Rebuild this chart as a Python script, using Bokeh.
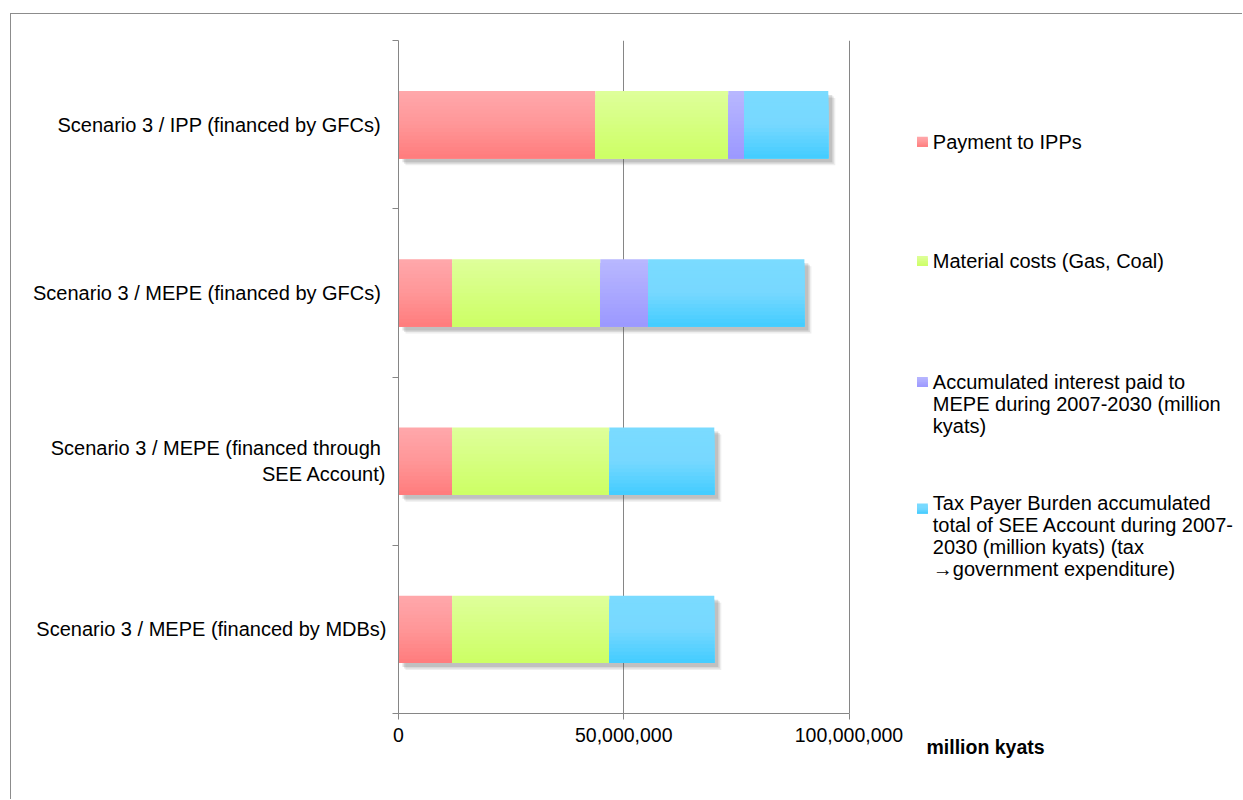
import numpy as np
from bokeh.plotting import figure
from bokeh.models import FixedTicker, NumeralTickFormatter, Range1d, ColumnDataSource, Title
from bokeh.embed import file_html
from bokeh.resources import INLINE
from bokeh.core.properties import value

# ---------------- data ----------------
categories = [
    "Scenario 3 / MEPE (financed by MDBs)",
    "Scenario 3 / MEPE  (financed through\nSEE Account)",
    "Scenario 3 / MEPE  (financed by GFCs)",
    "Scenario 3 / IPP  (financed by GFCs)",
]
series_names = [
    "Payment to IPPs",
    "Material costs (Gas, Coal)",
    "Accumulated interest paid to\nMEPE during 2007-2030 (million\nkyats)",
    "Tax Payer Burden accumulated\ntotal of SEE Account during 2007-\n2030 (million kyats) (tax\n\u2192government expenditure)",
]
payment_to_ipps = [11_900_000, 11_900_000, 11_900_000, 43_700_000]
material_costs = [34_900_000, 34_900_000, 32_900_000, 29_500_000]
accumulated_interest = [0, 0, 10_600_000, 3_500_000]
tax_payer_burden = [23_300_000, 23_300_000, 34_700_000, 18_700_000]
x_tick_values = [0, 50_000_000, 100_000_000]
x_axis_title = "million kyats"

series_values = [payment_to_ipps, material_costs, accumulated_interest, tax_payer_burden]

# ---------------- style ----------------
grad = [
    [(255, 168, 171), (255, 150, 152), (255, 124, 124)],
    [(222, 255, 155), (214, 255, 128), (204, 255, 100)],
    [(185, 184, 255), (170, 168, 255), (155, 152, 255)],
    [(122, 219, 255), (119, 216, 255), (66, 204, 255)],
]
AX = "#868686"
FONT = "Liberation Sans"
W, H = 1232, 786
ML, MT, MB = 387, 26, 87
frame_w = W - ML
px_per_unit_x = 450.5 / 100_000_000
x_end = frame_w / px_per_unit_x
frame_h = H - MT - MB
px_per_unit_y = frame_h / 4.0
bar_h = 0.4
N = 18


def interp(stops, t):
    if t <= 0.5:
        a, b, u = stops[0], stops[1], t / 0.5
    else:
        a, b, u = stops[1], stops[2], (t - 0.5) / 0.5
    c = [int(round(a[i] + (b[i] - a[i]) * u)) for i in range(3)]
    return "#%02x%02x%02x" % tuple(c)


p = figure(width=W, height=H, output_backend="svg", toolbar_location=None,
           x_range=Range1d(0, x_end), y_range=Range1d(0, 4),
           min_border_left=ML, min_border_right=0, min_border_top=MT, min_border_bottom=MB)
p.outline_line_color = None
p.background_fill_color = "white"
p.border_fill_color = "white"
p.styles = {"border-left": "1px solid #8c8c8c", "border-top": "1px solid #8c8c8c",
            "margin-left": "10px", "margin-top": "13px"}

y_centers = [i + 0.5 for i in range(len(categories))]
lefts, rights = [], []
acc = np.zeros(len(categories))
for vals in series_values:
    v = np.array(vals, dtype=float)
    lefts.append(acc.copy())
    rights.append(acc + v)
    acc = acc + v
totals = acc

# soft drop shadow behind each whole bar
for off, alpha in [(7, 0.10), (5.5, 0.14), (4, 0.18)]:
    dx = off / px_per_unit_x
    dy = off / px_per_unit_y
    p.quad(left=[dx] * len(categories),
           right=list(totals + dx),
           top=[c + bar_h / 2 - dy for c in y_centers],
           bottom=[c - bar_h / 2 - dy for c in y_centers],
           fill_color="#555555", fill_alpha=alpha, line_color=None)

# gradient bars: layered quads
for s in range(len(series_values)):
    L, R, B, T, C = [], [], [], [], []
    for k in range(N):
        col = interp(grad[s], (k + 0.5) / N)
        for i, c in enumerate(y_centers):
            if rights[s][i] - lefts[s][i] <= 0:
                continue
            L.append(lefts[s][i]); R.append(rights[s][i])
            B.append(c - bar_h / 2)
            T.append(c + bar_h / 2 - k * bar_h / N)
            C.append(col)
    src = ColumnDataSource(dict(left=L, right=R, bottom=B, top=T, color=C))
    p.quad(left="left", right="right", bottom="bottom", top="top",
           fill_color="color", line_color=None, source=src)

# axes
p.xaxis.ticker = FixedTicker(ticks=x_tick_values)
p.xaxis.formatter = NumeralTickFormatter(format="0,0")
p.xaxis.bounds = (x_tick_values[0], x_tick_values[-1])
p.xaxis.axis_line_color = AX
p.xaxis.major_tick_line_color = AX
p.xaxis.major_tick_out = 6
p.xaxis.major_tick_in = 0
p.xaxis.minor_tick_line_color = None
p.xaxis.major_label_standoff = 8
p.xaxis.major_label_text_font = FONT
p.xaxis.major_label_text_font_size = "19.5px"
p.xaxis.major_label_text_color = "#000000"

p.yaxis.ticker = FixedTicker(ticks=y_centers, minor_ticks=list(range(len(categories) + 1)))
p.yaxis.major_label_overrides = {c: lab for c, lab in zip(y_centers, categories)}
p.yaxis.axis_line_color = AX
p.yaxis.major_tick_line_color = None
p.yaxis.major_tick_out = 0
p.yaxis.major_tick_in = 0
p.yaxis.minor_tick_line_color = AX
p.yaxis.minor_tick_out = 6
p.yaxis.minor_tick_in = 0
p.yaxis.major_label_standoff = 6
p.yaxis.major_label_text_font = FONT
p.yaxis.major_label_text_font_size = "20px"
p.yaxis.major_label_text_color = "#000000"

p.xgrid.ticker = FixedTicker(ticks=x_tick_values[1:])
p.xgrid.grid_line_color = AX
p.xgrid.grid_line_width = 1
p.ygrid.grid_line_color = None

# legend (manual)
leg_sq_x0 = 115.1e6
leg_sq_x1 = 117.5e6
leg_tx = 118.6e6
sq_centers_px = [141.3, 260.5, 381.5, 508.0]     # page y of legend squares
line1_centers_px = [141.5, 260.5, 380.7, 501.7]  # page y of first text line
PAGE_FRAME_BOTTOM = 713
sq_half = 5 / px_per_unit_y
for s in range(len(series_names)):
    cy = (PAGE_FRAME_BOTTOM - sq_centers_px[s]) / px_per_unit_y
    for k in range(6):
        col = interp(grad[s], (k + 0.5) / 6)
        p.quad(left=[leg_sq_x0], right=[leg_sq_x1], bottom=[cy - sq_half],
               top=[cy + sq_half - k * 2 * sq_half / 6], fill_color=col, line_color=None)
    ty = (PAGE_FRAME_BOTTOM - (line1_centers_px[s] - 10.6)) / px_per_unit_y
    p.text(x=[leg_tx], y=[ty], text=[series_names[s]],
           text_font=value(FONT), text_font_size="20px", text_baseline="top",
           text_align="left", text_color="#000000", text_line_height=1.0)

t = Title(text=x_axis_title, align="left", offset=528, standoff=-22,
          text_font=FONT, text_font_size="19.5px", text_font_style="bold",
          text_color="#000000")
p.add_layout(t, "below")

open("out.html", "w").write(file_html(p, INLINE))
